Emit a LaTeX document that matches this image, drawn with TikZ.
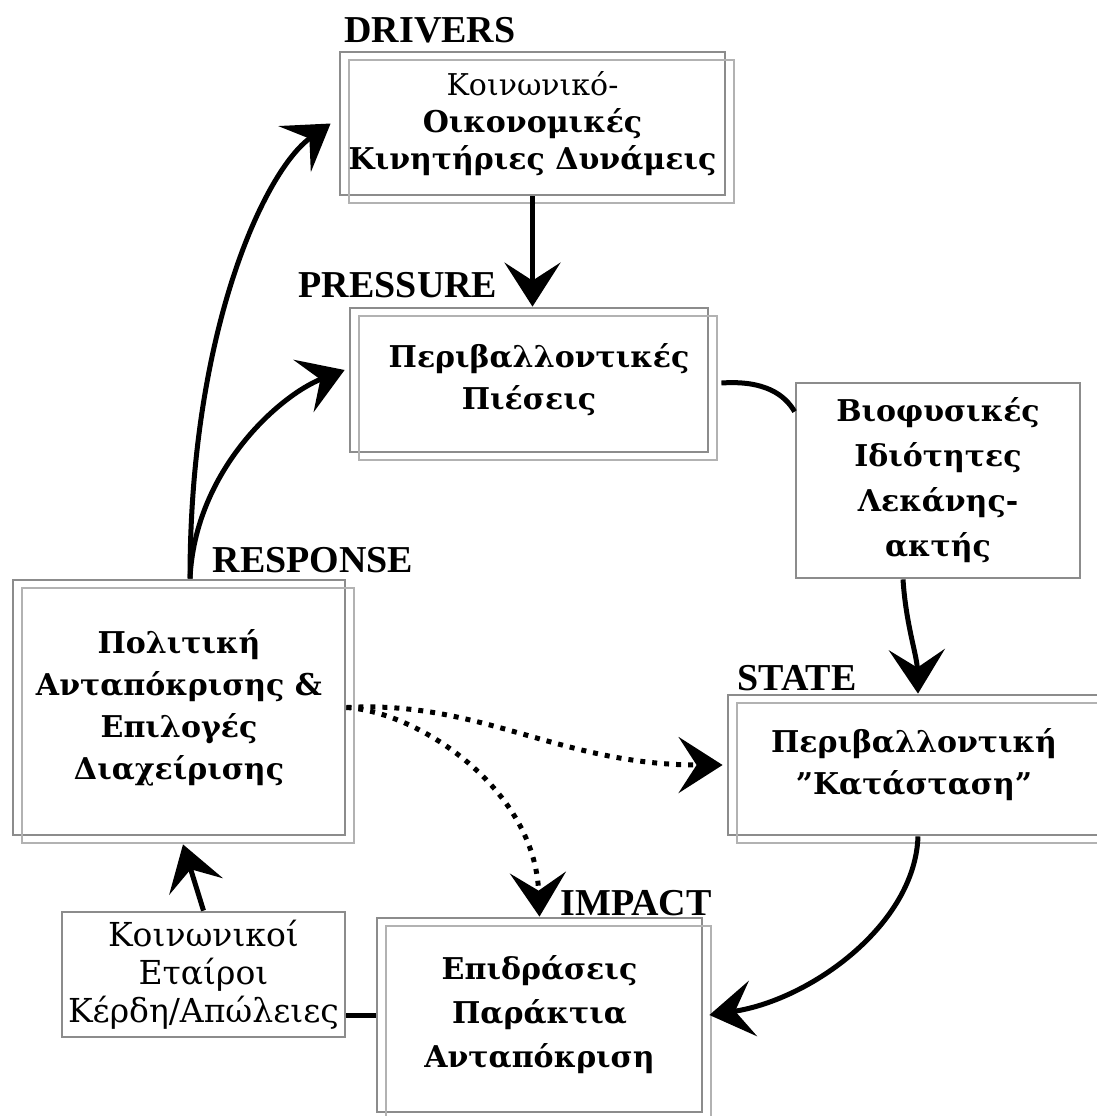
\documentclass[tikz,border=0pt]{standalone}
\usepackage{fontspec}
\setmainfont{DejaVu Serif}
\newfontfamily\labelfont{Liberation Serif}
\usetikzlibrary{arrows.meta, positioning}
\definecolor{frameGray}{HTML}{8C8C8C}
\definecolor{shadeGray}{HTML}{B2B2B2}

\begin{document}
\begin{tikzpicture}[
    x=0.5pt, y=-0.5pt,
    plainbox/.style={rectangle, draw=frameGray, line width=1.4pt, align=center, inner sep=0pt,
        font=\fontsize{15}{21}\selectfont\bfseries},
    box/.style={plainbox, postaction={draw=shadeGray, line width=1.4pt, transform canvas={shift={(4.5pt,-4pt)}}}},
    lbl/.style={font=\labelfont\bfseries\fontsize{19}{19}\selectfont, anchor=base, inner sep=0pt},
    line/.style={line width=2.5pt},
    arr/.style={-{Stealth[length=22pt, width=28pt, inset=9pt]}, line width=2.5pt},
    dotarr/.style={arr, dash pattern=on 2.5pt off 3.5pt}
]
\useasboundingbox (0,0) rectangle (1097,1116);

% Drivers
\node[box, minimum width=192.5pt, minimum height=71.5pt, font=\fontsize{15}{18.5}\selectfont\bfseries] (drivers) at (532.5,123.5) {{\mdseries Κοινωνικό-}\\Οικονομικές\\Κινητήριες Δυνάμεις};
\node[lbl] (driverslbl) at (430,42) {DRIVERS};

% Pressure
\node[box, minimum width=179pt, minimum height=72pt] (pres) at (529,380) {\hspace*{10pt}Περιβαλλοντικές\\Πιέσεις};
\node[lbl] (preslbl) at (398,297) {PRESSURE};

% Biophysical properties
\node[plainbox, minimum width=142pt, minimum height=97.5pt, font=\fontsize{15}{22.5}\selectfont\bfseries] (bio) at (938,480.5) {Βιοφυσικές\\Ιδιότητες\\Λεκάνης-\\ακτής};

% State
\node[box, minimum width=186pt, minimum height=70pt] (state) at (914,765) {Περιβαλλοντική\\"Κατάσταση"};
\node[lbl] (statelbl) at (797,690) {STATE};

% Response
\node[box, minimum width=166pt, minimum height=127.5pt] (resp) at (179,707.5) {Πολιτική\\Ανταπόκρισης \&\\Επιλογές\\Διαχείρισης};
\node[lbl] (resplbl) at (313,572) {RESPONSE};

% Impact
\node[box, minimum width=162.5pt, minimum height=97pt, font=\fontsize{15}{22}\selectfont\bfseries] (impact) at (539.5,1015) {Επιδράσεις\\Παράκτια\\Ανταπόκριση};
\node[lbl] (impactlbl) at (636,915) {IMPACT};

% Social partners
\node[plainbox, minimum width=141.5pt, minimum height=62.5pt, font=\fontsize{16.5}{19}\selectfont] (social) at (203.5,974.5) {Κοινωνικοί\\Εταίροι\\Κέρδη/Απώλειες};

% Arrows
\draw[arr] (drivers.south) -- (drivers.south |- pres.north);
\draw[arr] ([xshift=5.5pt]resp.north) .. controls (190,330) and (265,170) .. ([xshift=-4pt]drivers.west);
\draw[arr] ([xshift=5.5pt]resp.north) .. controls (195,470) and (280,395) .. ([xshift=-2pt, yshift=5pt]pres.west);
\draw[line] ([xshift=6pt, yshift=-1.5pt]pres.east) .. controls (765,380) and (785,395) .. ([yshift=-15pt]bio.north west);
\draw[arr] ([xshift=-17.5pt]bio.south) .. controls (906,625) and (917,655) .. ([xshift=2pt]state.north);
\draw[arr] ([xshift=2pt]state.south) .. controls (915,925) and (810,1000) .. ([xshift=3pt]impact.east);
\draw[arr] (social.north) -- ([xshift=2pt, yshift=-4pt]resp.south);
\draw[line] (social.east |- impact.west) -- (impact.west);
\draw[dotarr] (resp.east) .. controls (480,700) and (560,765) .. ([xshift=-2pt]state.west);
\draw[dotarr] (resp.east) .. controls (420,712) and (535,790) .. (impact.north);

\end{tikzpicture}
\end{document}
